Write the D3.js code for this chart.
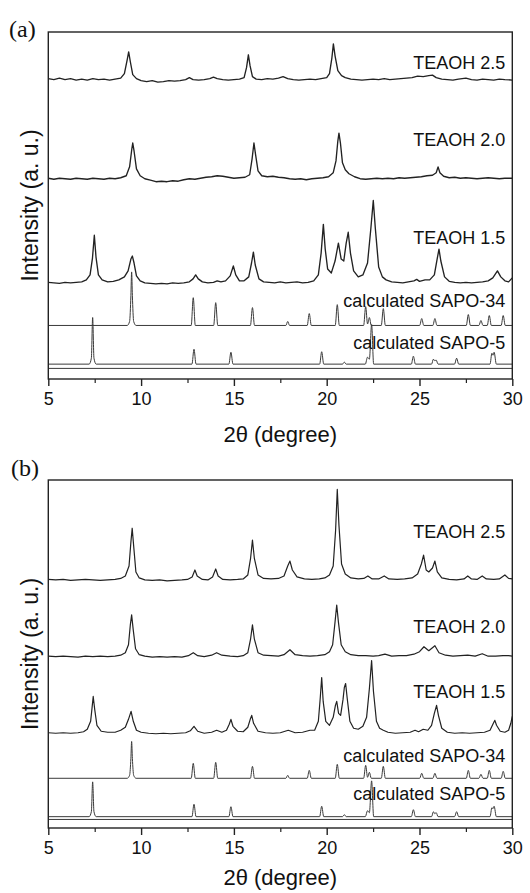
<!DOCTYPE html>
<html><head><meta charset="utf-8">
<script src="https://cdn.jsdelivr.net/npm/d3@7"></script>
<style>body{margin:0;background:#fff}svg{display:block}</style>
</head><body>
<svg id="c" width="530" height="893"></svg>
<script>
// ---------- DATA (2θ in degrees, intensity a.u. above each trace's own baseline) ----------
const xTicks = [5, 10, 15, 20, 25, 30];
const xMinorTicks = [7.5, 12.5, 17.5, 22.5, 27.5];
const traceNames = ["TEAOH 2.5", "TEAOH 2.0", "TEAOH 1.5", "calculated SAPO-34", "calculated SAPO-5", ""];

// panel (a)
const a25 = [[5,1],[5.3,0],[5.6,1.5],[5.9,0],[6.2,1],[6.5,-0.5],[6.8,0.5],[7.1,-0.5],[7.4,1],[7.7,0],[8,0.5],[8.3,-0.5],[8.6,0.5],[8.9,1.5],[9.1,6],[9.25,20],[9.33,28],[9.42,18],[9.55,5],[9.75,1],[10,-1],[10.3,-2],[10.6,-1],[10.9,-2.5],[11.2,-2],[11.5,-1],[11.8,-1.5],[12.1,-1],[12.4,0],[12.6,2],[12.8,0],[13.1,-0.5],[13.4,0],[13.7,1],[13.9,2.5],[14.1,1],[14.4,0],[14.7,-0.5],[15,0],[15.3,0.5],[15.55,2],[15.68,12],[15.78,25],[15.87,14],[16,3],[16.2,0.5],[16.5,0],[16.8,1],[17.1,0.5],[17.4,1.5],[17.65,3],[17.9,1],[18.2,0],[18.5,-0.5],[18.8,0],[19.1,0.5],[19.4,0],[19.7,1],[20,2],[20.15,6],[20.28,22],[20.36,36],[20.45,24],[20.6,9],[20.8,4],[21,2],[21.3,0.5],[21.6,0],[21.9,-0.5],[22.2,0],[22.5,0.5],[22.8,0],[23.1,1],[23.4,0],[23.7,0.5],[24,1],[24.3,1.5],[24.6,2],[24.9,3.5],[25.2,3],[25.5,4],[25.7,4.5],[25.9,2],[26.2,0.5],[26.5,0],[26.8,-0.5],[27.1,0.5],[27.5,1.5],[27.8,0],[28.1,-0.5],[28.4,0.5],[28.7,0],[29,-0.5],[29.3,0.5],[29.6,0],[30,-0.5]];
const a20 = [[5,0.5],[5.3,-0.5],[5.6,0.5],[5.9,0],[6.2,-0.5],[6.5,0.5],[6.8,0],[7.1,-0.5],[7.4,0.5],[7.7,0],[8,-0.5],[8.3,0.5],[8.6,0],[8.9,1],[9.2,3],[9.38,12],[9.5,30],[9.55,36],[9.62,28],[9.75,10],[9.95,3],[10.2,0],[10.5,-1.5],[10.8,-3],[11.1,-2.5],[11.4,-3],[11.7,-2],[12,-2.5],[12.3,-1],[12.6,0],[12.9,-0.5],[13.2,0.5],[13.5,1.5],[13.8,2],[14.1,3],[14.4,2.5],[14.7,1.5],[15,0.5],[15.3,1],[15.6,1.5],[15.85,4],[15.98,20],[16.08,36],[16.17,24],[16.3,8],[16.5,3],[16.8,2],[17.1,2.5],[17.4,1.5],[17.7,1],[18,0],[18.3,-0.5],[18.6,0],[18.9,-1],[19.2,0],[19.5,0.5],[19.8,1],[20.1,2],[20.35,6],[20.5,18],[20.6,38],[20.66,46],[20.74,36],[20.85,16],[21,9],[21.2,5],[21.5,2],[21.8,0],[22.1,-0.5],[22.4,0],[22.7,0.5],[23,0],[23.3,0.5],[23.6,0],[23.9,1],[24.2,0.5],[24.5,1],[24.8,1.5],[25.1,2],[25.4,3],[25.7,3.5],[25.9,6],[26.0,12],[26.1,6],[26.3,2.5],[26.6,1],[26.9,1.5],[27.2,0.5],[27.5,1],[27.8,0.5],[28.1,0],[28.4,0.5],[28.7,1],[29,0.5],[29.3,0],[29.6,0.5],[30,0.5]];
const a15 = [[5,0.5],[5.3,0],[5.6,-0.5],[5.9,0.5],[6.2,0],[6.5,0.5],[6.8,1],[7.05,3],[7.25,8],[7.38,25],[7.48,48],[7.57,26],[7.7,8],[7.9,3],[8.2,1],[8.5,1.5],[8.8,3],[9.1,6],[9.3,12],[9.45,24],[9.53,27],[9.62,20],[9.75,7],[9.95,2],[10.2,0],[10.5,-0.5],[10.8,-1],[11.1,-0.5],[11.4,-1],[11.7,0],[12,-0.5],[12.3,0],[12.6,1],[12.8,4],[12.94,8],[13.08,4],[13.3,1],[13.6,0],[13.9,0.5],[14.1,2],[14.3,1],[14.55,2],[14.8,7],[14.97,17],[15.1,8],[15.3,2],[15.55,2],[15.8,6],[15.95,20],[16.05,31],[16.15,18],[16.35,4],[16.6,1],[16.9,0.5],[17.2,0],[17.5,1],[17.8,0],[18.1,0.5],[18.4,1],[18.7,0],[19,0.5],[19.3,2],[19.55,8],[19.7,30],[19.82,59],[19.92,34],[20.05,14],[20.25,10],[20.45,22],[20.63,40],[20.78,24],[20.92,22],[21.05,40],[21.16,51],[21.28,30],[21.45,12],[21.7,6],[21.95,8],[22.2,20],[22.38,55],[22.51,83],[22.62,55],[22.8,16],[23,6],[23.2,3],[23.5,1],[23.8,0.5],[24.1,0],[24.4,1],[24.7,2],[24.85,3.5],[25,1.5],[25.3,3],[25.55,3],[25.8,8],[25.95,24],[26.05,34],[26.15,22],[26.35,6],[26.6,1.5],[26.9,0.5],[27.2,0],[27.5,0.5],[27.8,0],[28.1,0.5],[28.4,1],[28.7,2],[28.95,5],[29.2,12],[29.38,6],[29.6,2],[29.8,1],[29.9,3],[30,5]];
const aS34 = [[5,0],[9.25,0],[9.38,4],[9.45,30],[9.49,54],[9.53,30],[9.6,4],[9.73,0],[12.7,0],[12.81,28],[12.92,0],[13.91,0],[14.02,23],[14.13,0],[15.89,0],[16,18],[16.11,0],[17.8,0],[17.9,4],[18,0],[18.95,0],[19.06,12],[19.17,0],[20.46,0],[20.57,21],[20.68,0],[21.99,0],[22.1,19],[22.2,1.5],[22.3,8],[22.4,0],[22.94,0],[23.05,17],[23.16,0],[25.01,0],[25.12,7],[25.23,0],[25.72,0],[25.83,7],[25.94,0],[27.52,0],[27.63,11],[27.74,0],[28.2,0],[28.31,5],[28.42,0],[28.65,0],[28.76,10],[28.87,0],[29.4,0],[29.51,10],[29.62,0],[30,0]];
const aS5 = [[5,0],[7.2,0],[7.32,6],[7.39,47],[7.46,6],[7.58,0],[12.74,0],[12.85,15],[12.96,0],[14.73,0],[14.84,12],[14.95,0],[19.62,0],[19.73,12.5],[19.84,0],[20.85,0],[20.95,2],[21.05,0],[22.08,0],[22.2,7],[22.3,5],[22.42,40],[22.53,0],[24.56,0],[24.67,8],[24.78,0],[25.65,0],[25.75,5],[25.82,3.5],[25.9,4],[26.0,0],[26.89,0],[27.0,6],[27.11,0],[28.8,0],[28.9,11],[28.96,9],[29.02,12],[29.14,0],[30,0]];
const aRef = [[5,0],[30,0]];
const offsetsA = [302, 202, 97, 54, 15, 10.7];

// panel (b)
const b25 = [[5,0.5],[5.4,0],[5.8,0.5],[6.2,-0.5],[6.6,0],[7,0.5],[7.4,0],[7.8,-0.5],[8.2,0],[8.6,0.5],[8.9,1.5],[9.15,4],[9.35,14],[9.45,38],[9.52,52],[9.6,34],[9.72,8],[9.9,2],[10.2,0],[10.6,-0.5],[11,0],[11.4,-1],[11.8,-0.5],[12.2,0],[12.5,0.5],[12.75,3],[12.9,10],[13.02,4],[13.3,0.5],[13.6,0],[13.85,3],[14.02,11],[14.15,4],[14.4,0.5],[14.8,0],[15.2,0.5],[15.5,1],[15.75,5],[15.9,22],[16,40],[16.1,22],[16.3,5],[16.6,1.5],[17,1],[17.4,1.5],[17.7,4],[17.9,14],[18.02,19],[18.15,10],[18.4,3],[18.8,1],[19.2,0.5],[19.6,1],[19.9,2],[20.15,5],[20.35,14],[20.48,50],[20.57,91],[20.66,55],[20.8,16],[21,6],[21.3,2],[21.7,1],[22,1.5],[22.22,4],[22.45,1],[22.8,1],[23.1,4],[23.35,1],[23.8,0.5],[24.2,1],[24.6,2],[24.9,6],[25.1,16],[25.22,25],[25.36,10],[25.5,8],[25.7,12],[25.83,19],[25.96,8],[26.2,2],[26.6,0.5],[27,0],[27.4,1],[27.6,4],[27.8,1],[28.1,0.5],[28.38,4],[28.6,1],[29,0.5],[29.3,1],[29.6,5],[29.8,1.5],[30,1]];
const b20 = [[5,0.5],[5.4,0],[5.8,0.5],[6.2,0],[6.6,-0.5],[7,0.5],[7.4,0],[7.8,0.5],[8.2,0],[8.6,0.5],[8.9,1.5],[9.15,4],[9.32,12],[9.42,32],[9.49,42],[9.57,28],[9.7,8],[9.9,2],[10.2,0.5],[10.6,-0.5],[11,0],[11.4,-0.5],[11.8,0],[12.2,-0.5],[12.55,1],[12.81,4],[13.05,1],[13.4,0],[13.8,1.5],[14.07,4],[14.35,1.5],[14.8,0.5],[15.2,0],[15.5,1],[15.75,4],[15.9,18],[16,32],[16.1,18],[16.3,4],[16.6,1.5],[17,1],[17.4,0.5],[17.7,2],[18.02,7],[18.3,2],[18.7,1],[19.1,0.5],[19.5,1],[19.9,2],[20.15,5],[20.32,12],[20.45,35],[20.54,52],[20.63,35],[20.78,12],[21,5],[21.3,2],[21.7,1],[22.1,1],[22.5,0.5],[22.8,1],[23.14,2.5],[23.5,0.5],[23.9,1],[24.3,1],[24.7,2.5],[25,5],[25.24,10],[25.5,6],[25.83,11],[26.05,4],[26.4,1.5],[26.8,0.5],[27.2,1],[27.6,1.5],[28,0.5],[28.38,3],[28.7,0.5],[29.1,0.5],[29.5,1],[29.8,1],[30,0.5]];
const b15 = [[5,0.5],[5.4,0],[5.8,0.5],[6.2,0],[6.6,0.5],[6.9,1.5],[7.1,4],[7.28,12],[7.36,26],[7.42,37],[7.5,24],[7.62,8],[7.85,2],[8.2,1],[8.6,1],[8.9,3],[9.15,6],[9.32,14],[9.46,22],[9.58,12],[9.75,3],[10,1],[10.4,0],[10.8,-0.5],[11.2,0],[11.6,-0.5],[12,0],[12.4,0.5],[12.65,2.5],[12.85,7],[13.05,2],[13.4,0],[13.8,1],[14.07,3],[14.35,1],[14.6,3],[14.75,9],[14.84,14],[14.95,7],[15.2,2],[15.5,1.5],[15.75,6],[15.88,14],[15.96,18],[16.06,10],[16.3,2],[16.7,0.5],[17.1,0],[17.5,0.5],[17.93,3],[18.3,0.5],[18.7,1],[19.1,3],[19.35,3],[19.55,12],[19.65,35],[19.73,56],[19.81,32],[19.95,12],[20.15,8],[20.35,16],[20.47,28],[20.54,32],[20.64,20],[20.75,18],[20.88,34],[20.95,46],[21.02,50],[21.1,36],[21.25,12],[21.45,5],[21.7,4],[21.95,7],[22.15,16],[22.3,45],[22.42,73],[22.52,42],[22.68,12],[22.85,5],[23.05,3],[23.3,1],[23.7,0],[24.1,0.5],[24.5,1],[24.76,3],[24.95,1.5],[25.2,4],[25.45,3],[25.65,8],[25.8,20],[25.92,28],[26.02,18],[26.2,5],[26.5,1],[26.9,0],[27.3,0.5],[27.7,0],[28.1,0.5],[28.5,1],[28.8,3],[28.98,10],[29.06,13],[29.15,8],[29.35,2],[29.6,1],[29.8,3],[29.92,10],[30,17]];
const bS34 = [[5,0],[9.25,0],[9.38,3],[9.45,20],[9.49,37],[9.53,20],[9.6,3],[9.73,0],[12.7,0],[12.81,15],[12.92,0],[13.91,0],[14.02,16],[14.13,0],[15.89,0],[16,12],[16.11,0],[17.8,0],[17.9,3],[18,0],[18.95,0],[19.06,8],[19.17,0],[20.46,0],[20.57,14],[20.68,0],[21.99,0],[22.1,13],[22.2,1],[22.3,6],[22.4,0],[22.94,0],[23.05,12],[23.16,0],[25.01,0],[25.12,5],[25.23,0],[25.72,0],[25.83,5],[25.94,0],[27.52,0],[27.63,8],[27.74,0],[28.2,0],[28.31,4],[28.42,0],[28.65,0],[28.76,8],[28.87,0],[29.4,0],[29.51,7],[29.62,0],[30,0]];
const bS5 = [[5,0],[7.2,0],[7.32,5],[7.39,35],[7.46,5],[7.58,0],[12.74,0],[12.85,12.5],[12.96,0],[14.73,0],[14.84,10],[14.95,0],[19.62,0],[19.73,10.5],[19.84,0],[20.85,0],[20.95,2],[21.05,0],[22.08,0],[22.2,6],[22.3,4],[22.42,36],[22.53,0],[24.56,0],[24.67,7],[24.78,0],[25.65,0],[25.75,5],[25.82,3],[25.9,4],[26.0,0],[26.89,0],[27.0,5],[27.11,0],[28.8,0],[28.9,9],[28.96,8],[29.02,10.5],[29.14,0],[30,0]];
const bRef = [[5,0],[30,0]];
const offsetsB = [249.5, 172.3, 95.3, 50, 11.4, 8.6];

// ---------- DRAWING ----------
const svg = d3.select("#c");
const FONT = "'Liberation Sans', Arial, Helvetica, sans-serif";
const INK = "#222";

function drawPanel(cfg) {
  const x = d3.scaleLinear().domain([5, 30]).range([cfg.left, cfg.right]);
  const y = d3.scaleLinear().domain([0, 350]).range([cfg.bottom, cfg.top]);
  const g = svg.append("g");

  const clipId = "clip" + cfg.id;
  svg.append("clipPath").attr("id", clipId).append("rect")
    .attr("x", cfg.left).attr("y", cfg.top)
    .attr("width", cfg.right - cfg.left).attr("height", cfg.bottom - cfg.top);

  const tg = g.append("g").attr("clip-path", `url(#${clipId})`);
  cfg.traces.forEach((tr, i) => {
    const off = cfg.offsets[i];
    const line = d3.line()
      .x(d => x(d[0]))
      .y(d => y(d[1] + off))
      .curve(i < 3 ? d3.curveLinear : d3.curveMonotoneX);
    tg.append("path").datum(tr)
      .attr("d", line)
      .attr("fill", "none")
      .attr("stroke", i < 3 ? "#222" : "#3a3a3a")
      .attr("stroke-width", i < 3 ? cfg.expWidth : 1)
      .attr("stroke-linejoin", "round");
  });

  cfg.labelY.forEach((ly, i) => {
    if (!traceNames[i]) return;
    g.append("text").attr("x", cfg.right - 7).attr("y", ly)
      .attr("text-anchor", "end").attr("font-family", FONT)
      .attr("font-size", 18).attr("fill", "#111").text(traceNames[i]);
  });

  g.append("rect").attr("x", cfg.left).attr("y", cfg.top)
    .attr("width", cfg.right - cfg.left).attr("height", cfg.bottom - cfg.top)
    .attr("fill", "none").attr("stroke", INK).attr("stroke-width", 1.4);

  const ax = g.append("g").attr("transform", `translate(0,${cfg.bottom})`)
    .call(d3.axisBottom(x).tickValues(xTicks).tickSize(7).tickPadding(6).tickFormat(d3.format("d")));
  ax.select(".domain").remove();
  ax.selectAll("line").attr("stroke", INK).attr("stroke-width", 1.4);
  ax.selectAll("text").attr("font-family", FONT).attr("font-size", 18).attr("fill", "#111");
  const axm = g.append("g").attr("transform", `translate(0,${cfg.bottom})`)
    .call(d3.axisBottom(x).tickValues(xMinorTicks).tickSize(4).tickFormat(""));
  axm.select(".domain").remove();
  axm.selectAll("line").attr("stroke", INK).attr("stroke-width", 1.2);

  g.append("text").attr("x", (cfg.left + cfg.right) / 2).attr("y", cfg.titleY)
    .attr("text-anchor", "middle").attr("font-family", FONT).attr("font-size", 22)
    .attr("fill", "#111").text("2θ (degree)");
  g.append("text")
    .attr("transform", `translate(38,${(cfg.top + cfg.bottom) / 2}) rotate(-90)`)
    .attr("text-anchor", "middle").attr("font-family", FONT).attr("font-size", 23)
    .attr("fill", "#111").text("Intensity (a. u.)");

  g.append("text").attr("x", cfg.letterX).attr("y", cfg.letterY)
    .attr("font-family", "'Liberation Serif', 'Times New Roman', serif")
    .attr("font-size", 24).attr("fill", "#111").text(cfg.letter);
}

drawPanel({id: "a", left: 48.3, right: 512.3, top: 32, bottom: 379, titleY: 442, expWidth: 1.35,
  traces: [a25, a20, a15, aS34, aS5, aRef], offsets: offsetsA,
  labelY: [68.5, 145.5, 243.5, 306.5, 348.5], letter: "(a)", letterX: 9, letterY: 37});
drawPanel({id: "b", left: 48.3, right: 512.3, top: 480, bottom: 828, titleY: 885, expWidth: 1.2,
  traces: [b25, b20, b15, bS34, bS5, bRef], offsets: offsetsB,
  labelY: [538, 633, 698, 761.5, 800], letter: "(b)", letterX: 11, letterY: 476});
</script>
</body></html>
